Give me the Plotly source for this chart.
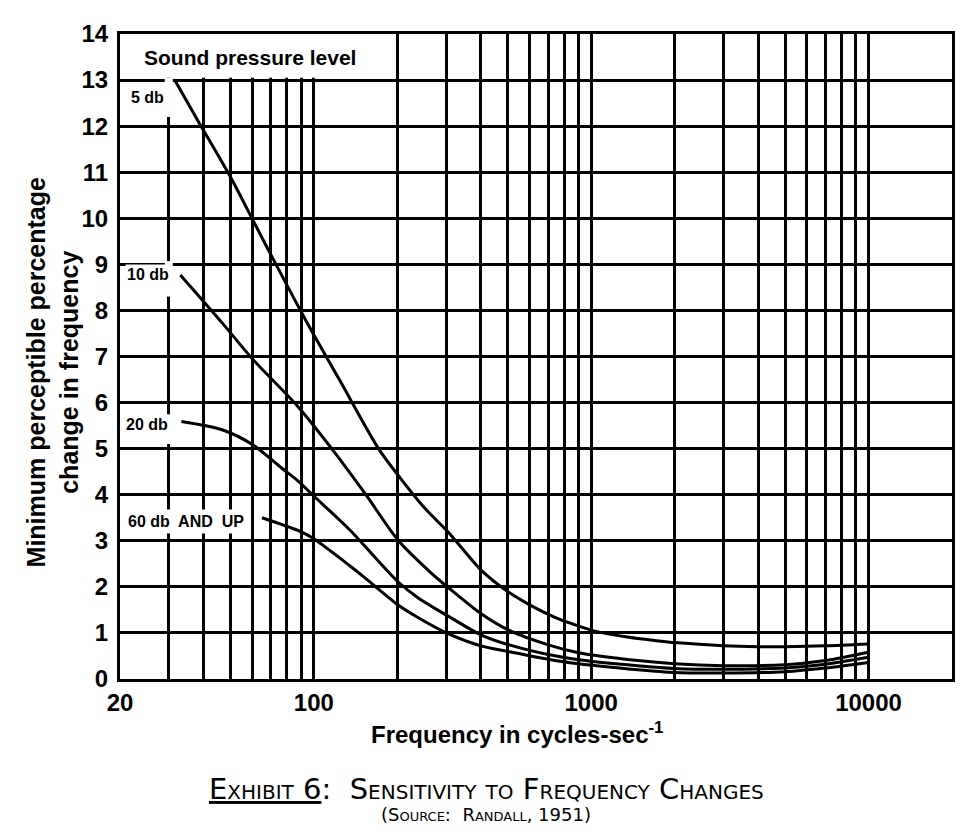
import math
import plotly.graph_objects as go

# ---- data ----
freq_5db = [31.5, 38.6, 50, 61, 73, 94, 123, 171, 205, 250, 306, 400, 500, 626, 740, 850, 1030, 1350, 1730, 2000, 3000, 4000, 5000, 7000, 10000]
pct_5db = [13.0, 12.07, 10.9, 9.9, 9.0, 7.76, 6.52, 5.0, 4.36, 3.72, 3.18, 2.37, 1.9, 1.55, 1.34, 1.2, 1.04, 0.91, 0.83, 0.79, 0.72, 0.70, 0.70, 0.72, 0.76]

freq_10db = [33, 46.7, 60, 88, 116, 154, 202, 265, 306, 400, 500, 700, 900, 1470, 2000, 3000, 5000, 7000, 10000]
pct_10db = [8.77, 7.73, 6.95, 5.9, 5.0, 4.0, 3.0, 2.3, 1.98, 1.42, 1.07, 0.74, 0.57, 0.40, 0.33, 0.29, 0.31, 0.40, 0.58]

freq_20db = [33.3, 46.7, 60, 76.5, 88, 98.4, 134, 202, 238, 306, 400, 500, 700, 900, 1470, 2000, 3000, 5000, 7000, 10000]
pct_20db = [5.59, 5.41, 5.09, 4.58, 4.29, 4.01, 3.25, 2.1, 1.76, 1.36, 0.96, 0.75, 0.53, 0.42, 0.29, 0.23, 0.21, 0.24, 0.32, 0.47]

freq_60db = [65, 88, 98.4, 134, 154, 202, 238, 306, 400, 500, 700, 900, 1470, 2000, 3000, 5000, 7000, 10000]
pct_60db = [3.5, 3.22, 3.07, 2.47, 2.18, 1.6, 1.33, 0.98, 0.72, 0.60, 0.43, 0.33, 0.20, 0.14, 0.13, 0.16, 0.24, 0.36]

series_labels = ["5 db", "10 db", "20 db", "60 db  AND  UP"]

x_grid_vals = [20, 30, 40, 50, 60, 70, 80, 90,
               100, 200, 300, 400, 500, 600, 700, 800, 900,
               1000, 2000, 3000, 4000, 5000, 6000, 7000, 8000, 9000,
               10000, 20000]
x_tick_labels = {20: "20", 100: "100", 1000: "1000", 10000: "10000"}
y_tick_vals = list(range(0, 15))

# ---- figure ----
fig = go.Figure()
for fx, fy, name in [(freq_5db, pct_5db, series_labels[0]),
                     (freq_10db, pct_10db, series_labels[1]),
                     (freq_20db, pct_20db, series_labels[2]),
                     (freq_60db, pct_60db, series_labels[3])]:
    fig.add_trace(go.Scatter(x=fx, y=fy, mode="lines", name=name,
                             line=dict(color="black", width=3, shape="spline", smoothing=0.8),
                             showlegend=False, hoverinfo="skip"))

BOLD = dict(family="Liberation Sans", color="black", weight="bold")

fig.update_layout(
    width=959, height=823,
    margin=dict(l=112, r=12, t=22, b=152),
    paper_bgcolor="white", plot_bgcolor="white",
    xaxis=dict(type="log", range=[math.log10(20), math.log10(20000)],
               tickvals=x_grid_vals,
               ticktext=[x_tick_labels.get(v, "") for v in x_grid_vals],
               showgrid=True, gridcolor="black", gridwidth=2.5,
               showline=True, linecolor="black", linewidth=3, mirror=True,
               ticks="", zeroline=False,
               tickfont=dict(size=24, **BOLD)),
    yaxis=dict(range=[0, 14], tickvals=y_tick_vals,
               showgrid=True, gridcolor="black", gridwidth=2.5,
               showline=True, linecolor="black", linewidth=3, mirror=True,
               ticks="", zeroline=False, ticklabelstandoff=4,
               tickfont=dict(size=24, **BOLD)),
)

# masks reproducing the blank header row and label gaps of the original grid
mask = dict(type="rect", fillcolor="white", line=dict(width=0), layer="between",
            xref="x", yref="y")
fig.add_shape(x0=20, x1=197, y0=13.05, y1=14, **mask)
fig.add_shape(x0=29, x1=31, y0=12.2, y1=13.05, **mask)
fig.add_shape(x0=29, x1=31, y0=8.3, y1=9.07, **mask)
fig.add_shape(x0=29, x1=31, y0=5.1, y1=5.74, **mask)

lab_font = dict(size=16, **BOLD)
fig.add_annotation(x=math.log10(24.1), y=13.5, xref="x", yref="y", text="Sound pressure level",
                   showarrow=False, xanchor="left", yanchor="middle", font=dict(size=21, **BOLD))
fig.add_annotation(x=math.log10(25.1), y=12.62, text=series_labels[0], showarrow=False,
                   xanchor="center", yanchor="middle", font=lab_font, bgcolor="white")
fig.add_annotation(x=math.log10(25.3), y=8.77, text=series_labels[1], showarrow=False,
                   xanchor="center", yanchor="middle", font=lab_font, bgcolor="white")
fig.add_annotation(x=math.log10(25.0), y=5.52, text=series_labels[2], showarrow=False,
                   xanchor="center", yanchor="middle", font=lab_font, bgcolor="white")
fig.add_annotation(x=math.log10(34.7), y=3.42, text=series_labels[3], showarrow=False,
                   xanchor="center", yanchor="middle", font=lab_font, bgcolor="white", borderpad=3)

# axis titles and caption
fig.add_annotation(xref="paper", yref="paper", x=-0.080, y=0.476,
                   xanchor="center", yanchor="middle",
                   text="Minimum perceptible percentage<br>change in frequency",
                   textangle=-90, showarrow=False, font=dict(size=25, **BOLD))
fig.add_annotation(xref="paper", yref="paper", x=0.4766, y=-0.0832,
                   xanchor="center", yanchor="middle",
                   text="Frequency in cycles-sec<sup>-1</sup>",
                   showarrow=False, font=dict(size=24, **BOLD))
fig.add_annotation(xref="paper", yref="paper", x=0.440, y=-0.171,
                   xanchor="center", yanchor="middle",
                   text="<u>Exhibit 6</u>:  Sensitivity to Frequency Changes",
                   showarrow=False,
                   font=dict(size=29, family="DejaVu Sans", color="black", variant="small-caps"))
fig.add_annotation(xref="paper", yref="paper", x=0.4395, y=-0.2096,
                   xanchor="center", yanchor="middle",
                   text="(Source:  Randall, 1951)",
                   showarrow=False,
                   font=dict(size=18, family="DejaVu Sans", color="black", variant="small-caps"))

fig.write_html("out.html")
